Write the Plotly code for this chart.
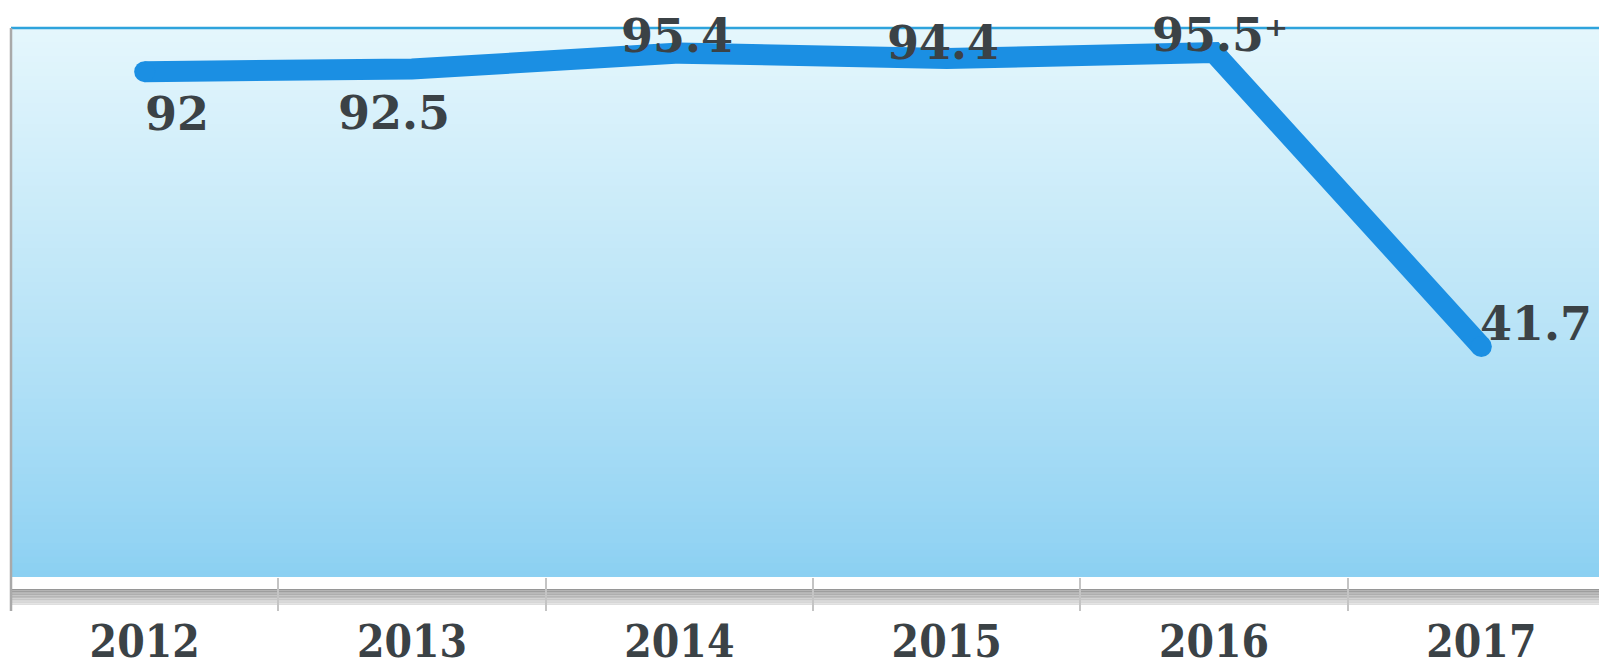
import plotly.graph_objects as go

years = ["2012", "2013", "2014", "2015", "2016", "2017"]
values = [92, 92.5, 95.4, 94.4, 95.5, 41.7]
label_marks = ["", "", "", "", "\u207a", ""]

# label offsets (pixels) relative to each point: (xshift, yshift, xanchor)
label_offsets = [(32, -42, "center"), (-18, -44, "center"), (-2, 17, "center"),
                 (-4, 16, "center"), (6, 18, "center"), (-2, 22, "left")]

W, H = 1607, 667
LT, LB = 20, 98
fig = go.Figure()

fig.add_trace(go.Scatter(
    x=years, y=values, mode="lines",
    line=dict(color="#1b8fe3", width=21),
    hoverinfo="skip", showlegend=False,
))
# round caps at both line ends
fig.add_trace(go.Scatter(
    x=[years[0], years[-1]], y=[values[0], values[-1]], mode="markers",
    marker=dict(color="#1b8fe3", size=21, line=dict(width=0)),
    hoverinfo="skip", showlegend=False,
))

shapes = []
n = 80
top = (228, 246, 252)
bot = (139, 208, 242)
for i in range(n):
    t = (i / (n - 1)) ** 0.85
    c = tuple(round(bot[k] + (top[k] - bot[k]) * t) for k in range(3))
    shapes.append(dict(type="rect", xref="x domain", yref="y domain",
                       x0=0, x1=1, y0=i / n, y1=(i + 1) / n + 0.002,
                       fillcolor="rgb(%d,%d,%d)" % c, line=dict(width=0),
                       layer="below"))
shapes.append(dict(type="line", xref="x domain", yref="y domain", x0=0, x1=1,
                   y0=1, y1=1, line=dict(color="#2ea3dc", width=2.5)))
shapes.append(dict(type="line", xref="x domain", yref="y domain", x0=1, x1=1,
                   y0=0, y1=1, line=dict(color="#3eaae3", width=3)))
ph = H - LT - LB
shapes.append(dict(type="line", xref="x domain", yref="y domain", x0=0, x1=0,
                   y0=-34 / ph, y1=1, line=dict(color="#a9a9a9", width=2.5)))
band_top, band_bot = 12, 28
m = 10
for i in range(m):
    t = i / (m - 1)
    g = round(150 + (222 - 150) * t)
    y0 = -(band_top + (band_bot - band_top) * i / m) / ph
    y1 = -(band_top + (band_bot - band_top) * (i + 1) / m) / ph
    shapes.append(dict(type="rect", xref="x domain", yref="y domain",
                       x0=0, x1=1, y0=y1, y1=y0,
                       fillcolor="rgb(%d,%d,%d)" % (g, g, g),
                       line=dict(width=0), layer="below"))

annotations = []
for i, (v, mk, (dx, dy, xa)) in enumerate(zip(values, label_marks, label_offsets)):
    txt = f"{v:g}{mk}"
    annotations.append(dict(
        x=i, y=v, xref="x", yref="y", text=txt, showarrow=False,
        xshift=dx, yshift=dy, xanchor=xa, yanchor="middle", borderpad=0,
        font=dict(family="DejaVu Serif", size=46, color="#3b4246", weight="bold"),
    ))

fig.update_layout(
    width=W, height=H,
    margin=dict(l=3, r=0, t=LT, b=LB),
    paper_bgcolor="white", plot_bgcolor="rgba(0,0,0,0)",
    shapes=shapes, annotations=annotations,
    xaxis=dict(type="category", range=[-0.5, 5.5], tickson="boundaries",
               ticks="outside", ticklen=33, tickwidth=2, tickcolor="#c4c4c4",
               showgrid=False, zeroline=False, showline=False,
               ticklabelstandoff=35,
               tickfont=dict(family="DejaVu Serif Condensed, Liberation Serif, serif",
                             size=44, color="#3b4246", weight="bold"),
               fixedrange=True),
    yaxis=dict(range=[-0.5, 100], visible=False, showgrid=False, fixedrange=True),
)

fig.write_html("out.html")
